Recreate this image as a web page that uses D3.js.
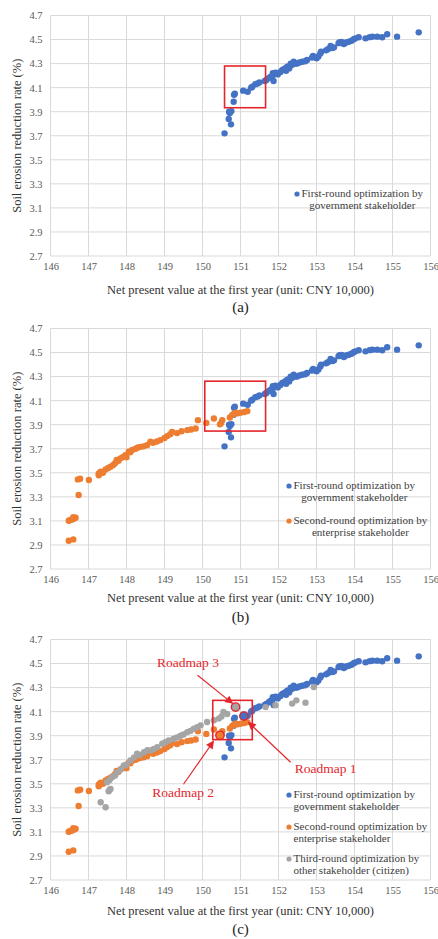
<!DOCTYPE html>
<html><head><meta charset="utf-8">
<script src="https://cdn.jsdelivr.net/npm/d3@7"></script>
<style>body{margin:0;background:#fff}svg{display:block;font-family:"Liberation Serif","Times New Roman",serif}</style>
</head><body>
<svg id="c" width="438" height="939"></svg>
<script>
// ---------- data ----------
const xTicks = [146,147,148,149,150,151,152,153,154,155,156];
const yTicks = [2.7,2.9,3.1,3.3,3.5,3.7,3.9,4.1,4.3,4.5,4.7];
const seriesNames = [
  ["First-round optimization by","government stakeholder"],
  ["Second-round optimization by","enterprise stakeholder"],
  ["Third-round optimization by","other stakeholder (citizen)"]
];
const seriesColors = ["#4472C4","#ED7D31","#A5A5A5"];
const blue = [[150.58,3.72],[150.75,3.795],[150.69,3.84],[150.72,3.89],[150.76,3.905],[150.7,3.9],[150.82,3.983],[150.85,4.05],[150.83,4.04],
[151.07,4.075],[151.19,4.066],[151.31,4.108],[151.28,4.1],[151.39,4.128],[151.5,4.144],[151.45,4.135],[151.68,4.164],[151.64,4.155],[151.79,4.19],[151.75,4.18],[151.85,4.22],[151.87,4.155],[151.84,4.2],[151.92,4.224],[151.98,4.21],[152.10,4.247],[152.05,4.23],[152.17,4.26],[152.2,4.24],[152.23,4.274],[152.28,4.26],[152.32,4.30],[152.3,4.28],[152.36,4.29],[152.40,4.316],[152.44,4.3],[152.49,4.30],[152.55,4.31],[152.62,4.316],[152.75,4.33],[152.7,4.32],[152.91,4.363],[152.88,4.35],[153.0,4.344],[153.05,4.36],[153.1,4.385],[153.12,4.399],[153.3,4.419],[153.25,4.41],[153.37,4.446],[153.46,4.435],[153.42,4.43],[153.61,4.477],[153.58,4.47],[153.66,4.48],[153.72,4.463],[153.78,4.475],[153.85,4.482],[153.92,4.49],[153.98,4.502],[154.02,4.51],[154.11,4.519],[154.29,4.51],[154.4,4.52],[154.47,4.524],[154.6,4.524],[154.73,4.519],[154.86,4.544],[155.12,4.524],[155.69,4.56]];
const orange = [[146.48,2.935],[146.6,2.946],[146.48,3.101],[146.52,3.108],[146.57,3.112],[146.62,3.12],[146.66,3.126],[146.6,3.13],[146.74,3.315],[146.72,3.445],[146.78,3.45],[147.01,3.44],[147.27,3.48],[147.27,3.495],[147.32,3.51],[147.38,3.5],[147.45,3.528],[147.52,3.54],[147.58,3.55],[147.65,3.565],[147.7,3.58],[147.74,3.606],[147.79,3.6],[147.84,3.62],[147.9,3.63],[147.97,3.647],[148.0,3.63],[148.06,3.675],[148.1,3.67],[148.15,3.69],[148.24,3.70],[148.3,3.71],[148.37,3.716],[148.45,3.72],[148.54,3.73],[148.63,3.758],[148.7,3.75],[148.8,3.76],[148.89,3.772],[149.0,3.79],[149.07,3.805],[149.15,3.82],[149.2,3.84],[149.33,3.83],[149.45,3.845],[149.6,3.855],[149.7,3.86],[149.82,3.869],[149.88,3.938],[150.1,3.915],[150.30,3.952],[150.52,3.938],[150.46,3.903],[150.49,3.915],[150.72,3.96],[150.78,3.98],[150.82,3.99],[150.87,4.0],[150.93,3.995],[151.0,4.0],[151.1,4.005],[151.18,4.013]];
const gray = [[147.32,3.347],[147.45,3.305],[147.53,3.438],[147.56,3.45],[147.58,3.458],[147.49,3.513],[147.55,3.53],[147.62,3.555],[147.7,3.57],[147.76,3.597],[147.85,3.62],[147.93,3.652],[148.0,3.66],[148.1,3.694],[148.2,3.72],[148.28,3.75],[148.35,3.74],[148.46,3.763],[148.55,3.78],[148.63,3.777],[148.72,3.79],[148.81,3.805],[148.94,3.833],[149.02,3.845],[149.11,3.86],[149.24,3.875],[149.33,3.885],[149.42,3.9],[149.5,3.91],[149.6,3.93],[149.68,3.94],[149.77,3.958],[149.86,3.97],[149.95,3.986],[150.12,4.014],[150.3,4.028],[150.43,4.042],[150.5,4.06],[150.55,4.097],[150.65,4.08],[150.87,4.138],[151.66,4.138],[151.92,4.153],[152.36,4.167],[152.47,4.194],[152.71,4.175],[152.93,4.305]];
const panelLabels = ["(a)","(b)","(c)"];
const boxA = [150.58,151.66,3.933,4.28];
const boxB = [150.06,151.66,3.847,4.262];
const boxC = [150.27,151.31,3.867,4.194];
// roadmaps: [label, text x, text y, arrow start x, y, arrow tip x, y, point x, y, series]
const roadmaps = [
  ["Roadmap 3",149.62,4.494,149.87,4.403,150.79,4.169,150.87,4.138,2],
  ["Roadmap 1",153.24,3.612,152.32,3.679,151.21,4.011,151.09,4.063,0],
  ["Roadmap 2",149.49,3.419,149.5,3.496,150.29,3.854,150.46,3.903,1]
];
const xTitle = "Net present value at the first year (unit: CNY 10,000)";
const yTitle = "Soil erosion reduction rate (%)";

// ---------- layout ----------
const svg = d3.select("#c");
const FONT = "Liberation Serif";
const RED = "#E4262C";
const left = 50.5, right = 430.5, ph = 240.5;
const x = d3.scaleLinear().domain([146,156]).range([left,right]);
svg.append("defs").append("marker").attr("id","ah").attr("viewBox","0 0 10 10")
  .attr("refX",9).attr("refY",5).attr("markerWidth",9).attr("markerHeight",8)
  .attr("markerUnits","userSpaceOnUse").attr("orient","auto")
  .append("path").attr("d","M0,0L10,5L0,10z").attr("fill",RED);

const panels = [
  {top:15.5, series:[0], data:[blue], box:boxA, legendTops:[194], legendAlign:"center", legendX:297, titleDy:35, labDy:53},
  {top:328.5, series:[0,1], data:[blue,orange], box:boxB, legendTops:[486,521], legendAlign:"center", legendX:289, titleDy:30, labDy:50},
  {top:639.5, series:[0,1,2], data:[blue,orange,gray], box:boxC, legendTops:[795,827,859], legendAlign:"left", legendX:289, titleDy:32, labDy:51, roadmaps:true}
];

panels.forEach((p,pi)=>{
  const y = d3.scaleLinear().domain([2.7,4.7]).range([p.top+ph,p.top]);
  const g = svg.append("g");
  // grid
  g.append("g").selectAll("line").data(xTicks).join("line")
    .attr("x1",d=>x(d)).attr("x2",d=>x(d)).attr("y1",y(4.7)).attr("y2",y(2.7))
    .attr("stroke","#d9d9d9").attr("stroke-width",1);
  g.append("g").selectAll("line").data(yTicks).join("line")
    .attr("x1",left).attr("x2",right).attr("y1",d=>y(d)).attr("y2",d=>y(d))
    .attr("stroke","#d9d9d9").attr("stroke-width",1);
  // axes labels
  const ya = g.append("g").attr("transform",`translate(${left},0)`)
    .call(d3.axisLeft(y).tickValues(yTicks).tickFormat(d3.format(".1f")).tickSize(0).tickPadding(8));
  const xa = g.append("g").attr("transform",`translate(0,${p.top+ph})`)
    .call(d3.axisBottom(x).tickValues(xTicks).tickFormat(d3.format("d")).tickSize(0).tickPadding(7));
  [ya,xa].forEach(a=>{a.select(".domain").remove();a.attr("font-family",null).attr("font-size",null);
    a.selectAll("text").style("font-family",FONT).style("font-size","10.5px").attr("fill","#595959");});
  // titles
  g.append("text").attr("x",(left+right)/2).attr("y",p.top+ph+p.titleDy).attr("text-anchor","middle")
    .attr("dominant-baseline","middle").style("font-family",FONT).style("font-size","12.5px").attr("fill","#333").text(xTitle);
  g.append("text").attr("transform",`translate(18,${p.top+ph/2}) rotate(-90)`).attr("text-anchor","middle")
    .attr("dominant-baseline","middle").style("font-family",FONT).style("font-size","12.5px").attr("fill","#333").text(yTitle);
  g.append("text").attr("x",(left+right)/2).attr("y",p.top+ph+p.labDy).attr("text-anchor","middle")
    .attr("dominant-baseline","middle").style("font-family",FONT).style("font-size","15px").attr("fill","#222").text(panelLabels[pi]);
  // points
  p.series.forEach((s,i)=>{
    g.append("g").selectAll("circle").data(p.data[i]).join("circle")
      .attr("cx",d=>x(d[0])).attr("cy",d=>y(d[1])).attr("r",3.2).attr("fill",seriesColors[s]);
  });
  // box
  const b = p.box;
  g.append("rect").attr("x",x(b[0])).attr("y",y(b[3])).attr("width",x(b[1])-x(b[0])).attr("height",y(b[2])-y(b[3]))
    .attr("fill","none").attr("stroke",RED).attr("stroke-width",1.6);
  // roadmaps
  if(p.roadmaps){
    roadmaps.forEach(r=>{
      g.append("circle").attr("cx",x(r[7])).attr("cy",y(r[8])).attr("r",4.2)
        .attr("fill",seriesColors[r[9]]).attr("stroke",RED).attr("stroke-width",1.4);
    });
    roadmaps.forEach(r=>{
      g.append("line").attr("x1",x(r[3])).attr("y1",y(r[4])).attr("x2",x(r[5])).attr("y2",y(r[6]))
        .attr("stroke",RED).attr("stroke-width",1.2).attr("marker-end","url(#ah)");
      g.append("text").attr("x",x(r[1])).attr("y",y(r[2])).attr("text-anchor","middle").attr("dominant-baseline","middle")
        .style("font-family",FONT).style("font-size","13.5px").attr("fill",RED).text(r[0]);
    });
  }
  // legend
  p.series.forEach((s,i)=>{
    const ly = p.legendTops[i];
    g.append("circle").attr("cx",p.legendX).attr("cy",ly).attr("r",2.6).attr("fill",seriesColors[s]);
    const t1 = g.append("text").style("font-family",FONT).style("font-size","11px").attr("fill","#404040")
      .attr("x",p.legendX+4.5).attr("y",ly).attr("dominant-baseline","middle").text(seriesNames[s][0]);
    const t2 = g.append("text").style("font-family",FONT).style("font-size","11px").attr("fill","#404040")
      .attr("y",ly+12.5).attr("dominant-baseline","middle").text(seriesNames[s][1]);
    if(p.legendAlign==="center"){
      const w = t1.node().getComputedTextLength();
      t2.attr("x",p.legendX+4.5+w/2).attr("text-anchor","middle");
    } else {
      t2.attr("x",p.legendX+4.5);
    }
  });
});
</script>
</body></html>
